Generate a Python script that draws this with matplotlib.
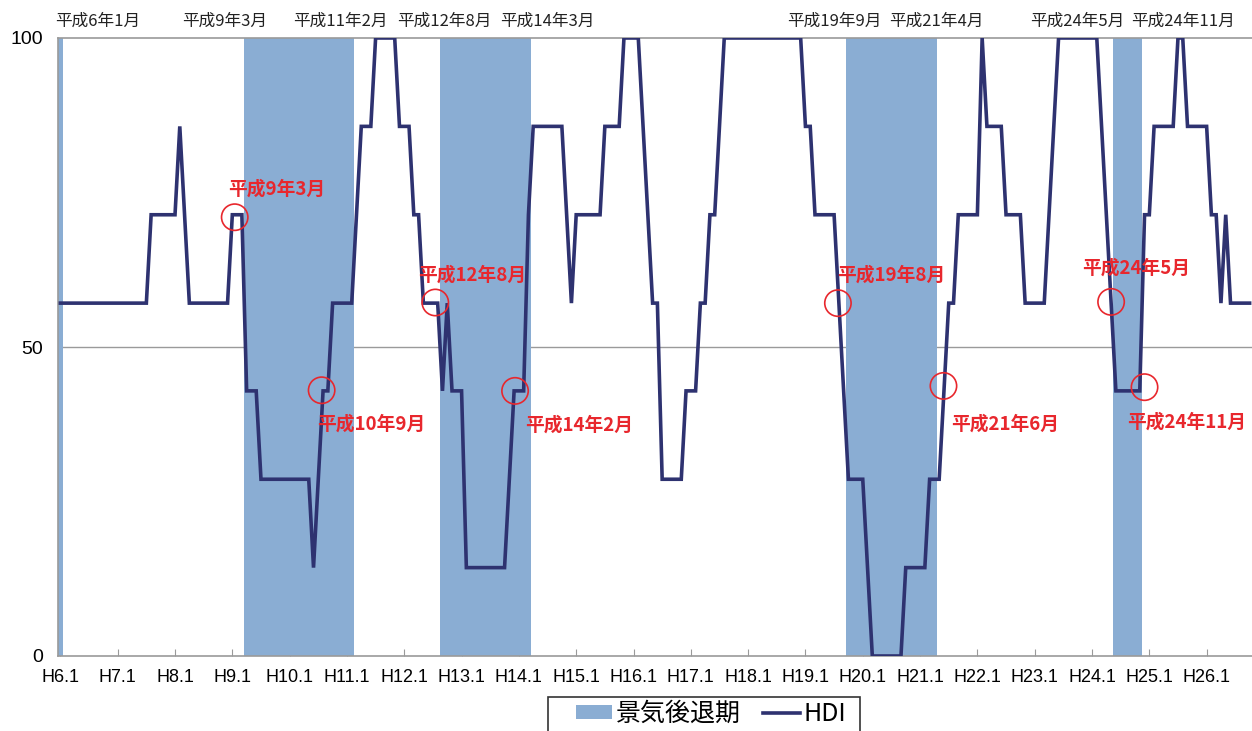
import numpy as np
import matplotlib
matplotlib.use('Agg')
from matplotlib import pyplot as plt
from matplotlib.patches import Patch, Rectangle
from matplotlib.lines import Line2D

plt.rcParams['font.family'] = ['Noto Sans CJK JP', 'DejaVu Sans']

# HDI (%), monthly from H6.1 to H26.10, stored as (value, number of months)
hdi_runs = [
    (57.1, 19), (71.4, 6), (85.7, 1), (71.4, 1), (57.1, 9), (71.4, 3),
    (42.9, 3), (28.6, 11), (14.3, 1), (28.6, 1), (42.9, 2), (57.1, 5),
    (71.4, 1), (85.7, 3), (100.0, 5), (85.7, 3), (71.4, 2), (57.1, 4),
    (42.9, 1), (57.1, 1), (42.9, 3), (14.3, 9), (28.6, 1), (42.9, 3),
    (71.4, 1), (85.7, 7), (71.4, 1), (57.1, 1), (71.4, 6), (85.7, 4),
    (100.0, 4), (85.7, 1), (71.4, 1), (57.1, 2), (28.6, 5), (42.9, 3),
    (57.1, 2), (71.4, 2), (85.7, 1), (100.0, 17), (85.7, 2), (71.4, 5),
    (57.1, 1), (42.9, 1), (28.6, 4), (14.3, 1), (0.0, 7), (14.3, 5),
    (28.6, 3), (42.9, 1), (57.1, 2), (71.4, 5), (100.0, 1), (85.7, 4),
    (71.4, 4), (57.1, 5), (71.4, 1), (85.7, 1), (100.0, 9), (85.7, 1),
    (71.4, 1), (57.1, 1), (42.9, 6), (71.4, 2), (85.7, 5), (100.0, 2),
    (85.7, 5), (71.4, 2), (57.1, 1), (71.4, 1), (57.1, 5),
]

tick_labels = ['H6.1', 'H7.1', 'H8.1', 'H9.1', 'H10.1', 'H11.1', 'H12.1',
               'H13.1', 'H14.1', 'H15.1', 'H16.1', 'H17.1', 'H18.1', 'H19.1',
               'H20.1', 'H21.1', 'H22.1', 'H23.1', 'H24.1', 'H25.1', 'H26.1']

# recession phases (heisei year, month): month after the peak .. trough
recession_spans = [((6, 1), (6, 1)), ((9, 4), (11, 2)), ((12, 9), (14, 3)),
                   ((19, 10), (21, 4)), ((24, 6), (24, 11))]

# peak / trough dates written above the plot
turning_labels = ['平成6年1月', '平成9年3月', '平成11年2月', '平成12年8月',
                  '平成14年3月', '平成19年9月', '平成21年4月', '平成24年5月',
                  '平成24年11月']

# points where the HDI crossed the 50% line around each turn
mark_labels = ['平成9年3月', '平成10年9月', '平成12年8月', '平成14年2月',
               '平成19年8月', '平成21年6月', '平成24年5月', '平成24年11月']
mark_values = [71.0, 43.0, 57.2, 42.9, 57.1, 43.7, 57.3, 43.5]

# placement of the annotations (month index, value)
turning_x = [7.9, 34.3, 58.6, 80.4, 101.9, 162.0, 183.4, 212.9, 235.0]
mark_x = [36.5, 54.7, 78.5, 95.2, 162.8, 184.9, 220.0, 227.0]
mark_text_pos = [(35.2, 75.5), (53.8, 37.6), (75.0, 61.7), (97.3, 37.4),
                 (162.6, 61.7), (186.6, 37.5), (213.9, 62.7), (223.4, 37.8)]

SHADE = '#8AADD3'
NAVY = '#2E3270'
RED = '#E8272D'
W, H = 1252, 731


def month_index(ym):
    return (ym[0] - 6) * 12 + (ym[1] - 1)


hdi = np.concatenate([np.full(n, v) for v, n in hdi_runs])
months = np.arange(len(hdi))

recession = np.zeros(len(hdi))
for start, end in recession_spans:
    recession[month_index(start):month_index(end) + 1] = 100.0

fig = plt.figure(figsize=(W / 100, H / 100), dpi=100)
ax = fig.add_axes([58 / W, 75 / H, 1194 / W, 618 / H])

ax.bar(months, recession, width=1.0, color=SHADE, linewidth=0, zorder=2)
ax.plot(months, hdi, color=NAVY, linewidth=2.6, zorder=4,
        solid_joinstyle='miter')

ax.set_xlim(-0.5, len(hdi) - 0.5)
ax.set_ylim(0, 100)
ax.set_yticks([0, 50, 100])
ax.set_yticklabels(['0', '50', '100'], family='Liberation Sans', fontsize=14)
ax.set_xticks(np.arange(0, 12 * len(tick_labels), 12))
ax.set_xticklabels(tick_labels, family='Liberation Sans', fontsize=13)
ax.tick_params(axis='y', length=0, pad=11)
ax.tick_params(axis='x', direction='in', length=5, color='#9A9A9A', pad=9)

ax.axhline(50, color='#9A9A9A', linewidth=1.0, zorder=1)
for side in ['left', 'bottom', 'top']:
    ax.spines[side].set_color('#9A9A9A')
    ax.spines[side].set_linewidth(1.2)
ax.spines['right'].set_visible(False)

for x, label in zip(turning_x, turning_labels):
    ax.text(x, 1.027, label, transform=ax.get_xaxis_transform(),
            ha='center', va='center', fontsize=12, color='#222222')

ax.scatter(mark_x, mark_values, s=360, facecolors='none', edgecolors=RED,
           linewidths=1.2, zorder=5, clip_on=False)
for (x, y), label in zip(mark_text_pos, mark_labels):
    ax.text(x, y, label, ha='left', va='center', fontsize=13.5,
            fontweight='bold', color=RED, zorder=6)

# legend box runs past the bottom edge of the figure
fig.patches.append(Rectangle((548 / W, -0.02), 312 / W, (H - 697) / H + 0.02,
                             transform=fig.transFigure, facecolor='white',
                             edgecolor='#333333', linewidth=1.2, zorder=0))
handles = [Patch(facecolor=SHADE, edgecolor='none'),
           Line2D([0], [0], color=NAVY, linewidth=2.6)]
leg = fig.legend(handles, ['景気後退期', 'HDI'], ncol=2, loc='center',
                 bbox_to_anchor=(711 / W, 1 - 714 / H), fontsize=18,
                 frameon=False, handlelength=1.45, handleheight=0.45,
                 handletextpad=0.15, columnspacing=0.9, borderpad=0,
                 borderaxespad=0)
leg.set_zorder(5)

fig.savefig('out.png', dpi=100)
